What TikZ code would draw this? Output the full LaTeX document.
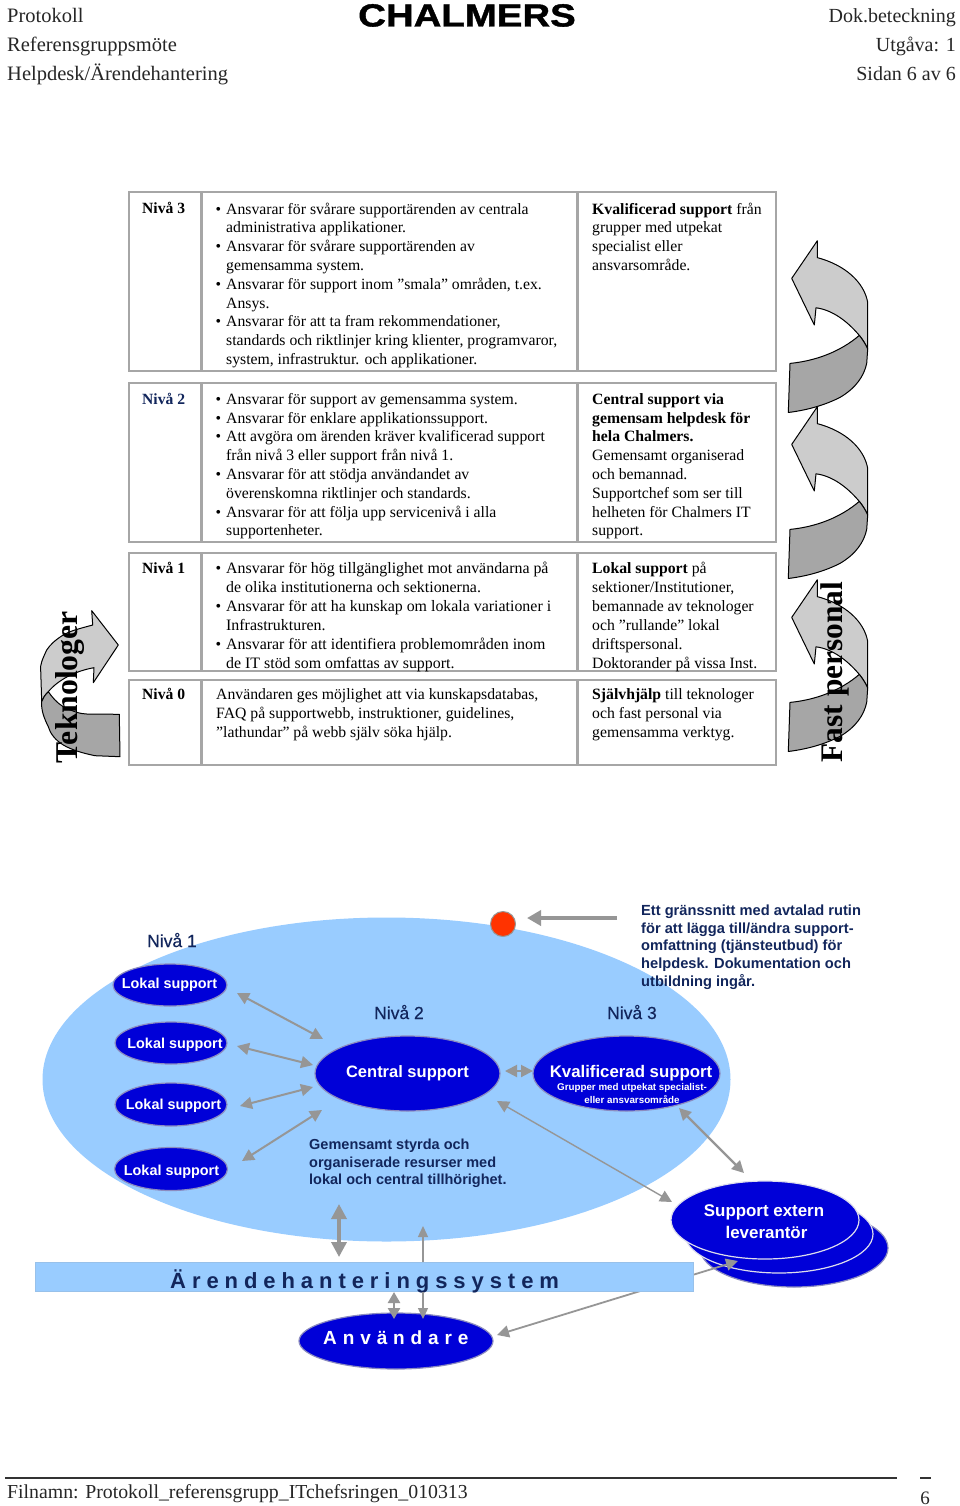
\documentclass[tikz,border=0pt]{standalone}
\usepackage{fontspec}
\setmainfont{Liberation Serif}
\setsansfont{Liberation Sans}
\newfontfamily\spacedA[LetterSpace=27]{Liberation Sans Bold}
\newfontfamily\spacedB[LetterSpace=31]{Liberation Sans Bold}
\newfontfamily\logofont[FakeBold=1.2]{Liberation Sans Bold}
\newfontfamily\navyfont[FakeBold=0.35]{Liberation Sans}
\usetikzlibrary{arrows.meta,shapes.geometric}
\definecolor{framegray}{HTML}{A6A6A6}
\definecolor{arrowgray}{HTML}{969696}
\definecolor{skyfill}{HTML}{99CCFF}
\definecolor{royal}{HTML}{0000D8}
\definecolor{rimcol}{HTML}{8C8CC0}
\definecolor{navytext}{HTML}{12265C}
\definecolor{lightcurl}{HTML}{CCCCCC}
\definecolor{darkcurl}{HTML}{A6A6A6}
\definecolor{dotred}{HTML}{FF3300}
\newcommand{\fl}{\rule{0pt}{11pt}}
\newcommand{\bl}{\makebox[0pt][r]{•\hspace{5pt}}}
\newcommand{\curlshape}[1]{%
\begin{scope}[yshift=-#1pt]
\draw[curl,fill=lightcurl] (817.3,240.8) -- (791.7,278.4) -- (814.3,325) -- (816,307.8)
  .. controls (833,310) and (848,322) .. (859.3,335.4)
  .. controls (863,340) and (866,345) .. (867.7,349) -- (867.7,302.4)
  .. controls (864,282) and (845,265) .. (817.3,257.6) -- cycle;
\draw[curl,fill=darkcurl] (859.3,335.4) .. controls (863,340) and (866,345) .. (867.7,349)
  -- (866.7,363.4) .. controls (864,376) and (856,388) .. (840,397.4)
  .. controls (825,405) and (808,410) .. (788.3,412.5) -- (790,363.4)
  .. controls (815,361) and (840,352) .. (859.3,335.4) -- cycle;
\end{scope}}
\tikzset{
  curl/.style={draw=black,line width=1pt,line join=round},
  celltext/.style={anchor=north west,inner sep=0pt,align=left,text=black,font=\fontsize{15.72}{18.8}\selectfont},
  lvl/.style={anchor=base west,inner sep=0pt,font=\fontsize{15.6}{18}\selectfont\bfseries},
  headl/.style={anchor=base west,inner sep=0pt,font=\fontsize{20.5}{24}\selectfont,text=black!85},
  headr/.style={anchor=base east,inner sep=0pt,font=\fontsize{20}{24}\selectfont,text=black!85},
  oval/.style={ellipse,draw=rimcol,line width=1.2pt,fill=royal,inner sep=0pt},
  ovtext/.style={anchor=center,inner sep=0pt,text=white,font=\sffamily\bfseries\fontsize{14.4}{17}\selectfont},
  navy/.style={text=navytext,inner sep=0pt,font=\navyfont\fontsize{17.5}{20}\selectfont},
  dbl/.style={draw=arrowgray,line width=#1,{Triangle[length=12pt,width=12pt]}-{Triangle[length=12pt,width=12pt]}},
  dbl/.default=2pt,
}
\begin{document}
\begin{tikzpicture}[x=1pt,y=-1pt]
\useasboundingbox (0,0) rectangle (960,1506);
\fill[white] (0,0) rectangle (960,1506);
% header
\node[headl] (h1) at (7,23) {Protokoll};
\node[headl] (h2) at (7,52) {Referensgruppsmöte};
\node[headl] (h3) at (7,81) {Helpdesk/Ärendehantering};
\node[headr] (h4) at (956,23) {Dok.beteckning};
\node[headr] (h5) at (956,52) {Utgåva: 1};
\node[headr] (h6) at (956,81) {Sidan 6 av 6};
\node[anchor=base,inner sep=0pt,xscale=1.2,font=\logofont\fontsize{32}{34}\selectfont] (logo) at (467,26.5) {CHALMERS};
% curl arrows right
\curlshape{0}
\curlshape{166}
\curlshape{339}
% curl arrow left
\draw[curl,fill=lightcurl] (118.3,645) -- (91.7,610.7) -- (92.7,625)
  .. controls (78,629) and (70,631) .. (63.3,635)
  .. controls (55,640) and (50,645) .. (46.7,650)
  .. controls (42,660) and (40,665) .. (40.7,670) -- (41.7,701.7)
  .. controls (43,698) and (45,695) .. (48.3,691.7)
  .. controls (58,680) and (75,671) .. (94,667.7) -- (93.3,682.7) -- cycle;
\draw[curl,fill=darkcurl] (48.3,691.7) .. controls (52,697) and (57,703) .. (63.3,706.7)
  .. controls (72,711) and (80,714) .. (86.7,714) -- (119.3,714.3) -- (120,756.7) -- (95,755.7)
  .. controls (82,753) and (72,750) .. (63.3,745)
  .. controls (55,740) and (50,733) .. (48.3,726.7)
  .. controls (44,718) and (41,710) .. (41.7,701.7) .. controls (43,698) and (45,695) .. (48.3,691.7) -- cycle;
\node[rotate=90,anchor=base west,inner sep=0pt,font=\bfseries\fontsize{31.7}{34}\selectfont] (tek) at (77,763.5) {Teknologer};
\node[rotate=90,anchor=base west,inner sep=0pt,font=\bfseries\fontsize{31.4}{34}\selectfont] (fast) at (842,762.5) {Fast personal};
% table frames
\foreach \ya/\yb/\lw in {192/371/2.7,383/542/2.7,553/671/2.2,680/765/2.2}{
  \draw[draw=framegray,line width=\lw pt,fill=white] (129,\ya) rectangle (776,\yb);
  \draw[draw=framegray,line width=3pt] (201,\ya) -- (201,\yb);
  \draw[draw=framegray,line width=3pt] (577.5,\ya) -- (577.5,\yb);
}
% level labels
\node[lvl] (n3) at (142,213.5) {Nivå 3};
\node[lvl,text=navytext] (n2) at (142,404) {Nivå 2};
\node[lvl] (n1) at (142,573) {Nivå 1};
\node[lvl] (n0) at (142,699) {Nivå 0};
% row 3
\node[celltext] (c3) at (226,202.5) {\fl\bl Ansvarar för svårare supportärenden av centrala\\
administrativa applikationer.\\
\bl Ansvarar för svårare supportärenden av\\
gemensamma system.\\
\bl Ansvarar för support inom ”smala” områden, t.ex.\\
Ansys.\\
\bl Ansvarar för att ta fram rekommendationer,\\
standards och riktlinjer kring klienter, programvaror,\\
system, infrastruktur. och applikationer.};
\node[celltext] (r3) at (592,202.5) {\fl\textbf{Kvalificerad support} från\\
grupper med utpekat\\
specialist eller\\
ansvarsområde.};
% row 2
\node[celltext] (c2) at (226,393) {\fl\bl Ansvarar för support av gemensamma system.\\
\bl Ansvarar för enklare applikationssupport.\\
\bl Att avgöra om ärenden kräver kvalificerad support\\
från nivå 3 eller support från nivå 1.\\
\bl Ansvarar för att stödja användandet av\\
överenskomna riktlinjer och standards.\\
\bl Ansvarar för att följa upp servicenivå i alla\\
supportenheter.};
\node[celltext] (r2) at (592,393) {\fl\textbf{Central support via}\\
\textbf{gemensam helpdesk för}\\
\textbf{hela Chalmers.}\\
Gemensamt organiserad\\
och bemannad.\\
Supportchef som ser till\\
helheten för Chalmers IT\\
support.};
% row 1
\node[celltext,font=\fontsize{15.9}{19}\selectfont] (c1) at (226,562) {\fl\bl Ansvarar för hög tillgänglighet mot användarna på\\
de olika institutionerna och sektionerna.\\
\bl Ansvarar för att ha kunskap om lokala variationer i\\
Infrastrukturen.\\
\bl Ansvarar för att identifiera problemområden inom\\
de IT stöd som omfattas av support.};
\node[celltext,font=\fontsize{15.72}{19}\selectfont] (r1) at (592,562) {\fl\textbf{Lokal support} på\\
sektioner/Institutioner,\\
bemannade av teknologer\\
och ”rullande” lokal\\
driftspersonal.\\
Doktorander på vissa Inst.};
% row 0
\node[celltext,font=\fontsize{15.72}{19}\selectfont] (c0) at (216,688) {\fl Användaren ges möjlighet att via kunskapsdatabas,\\
FAQ på supportwebb, instruktioner, guidelines,\\
”lathundar” på webb själv söka hjälp.};
\node[celltext,font=\fontsize{15.72}{19}\selectfont] (r0) at (592,688) {\fl\textbf{Självhjälp} till teknologer\\
och fast personal via\\
gemensamma verktyg.};
% lower diagram
\node[ellipse,fill=skyfill,minimum width=688pt,minimum height=324pt,inner sep=0pt] (cloud) at (386.5,1079.5) {};
\node[oval,minimum width=114pt,minimum height=42pt] (l1) at (170,985) {};
\node[oval,minimum width=112pt,minimum height=42pt] (l2) at (171,1043) {};
\node[oval,minimum width=112pt,minimum height=43pt] (l3) at (171,1104.5) {};
\node[oval,minimum width=113pt,minimum height=43pt] (l4) at (171,1169) {};
\node[ovtext] (l1t) at (169.5,985) {Lokal support};
\node[ovtext] (l2t) at (175,1044.5) {Lokal support};
\node[ovtext] (l3t) at (173.5,1105.5) {Lokal support};
\node[ovtext] (l4t) at (171.5,1171.5) {Lokal support};
\node[oval,minimum width=185pt,minimum height=75pt] (cs) at (407.5,1073.5) {};
\node[ovtext,font=\sffamily\bfseries\fontsize{16.5}{19}\selectfont] (cst) at (407.5,1073) {Central support};
\node[oval,minimum width=187pt,minimum height=75pt] (ks) at (626.5,1073.5) {};
\node[anchor=base,inner sep=0pt,text=white,font=\sffamily\bfseries\fontsize{16.8}{19}\selectfont] (kst) at (631,1077) {Kvalificerad support};
\node[anchor=north,inner sep=0pt,text=white,align=center,font=\sffamily\bfseries\fontsize{9.8}{12.4}\selectfont] (kss) at (632,1083.5) {Grupper med utpekat specialist-\\eller ansvarsområde};
\node[oval,minimum width=188pt,minimum height=78pt] (se3) at (794,1248) {};
\node[oval,draw=white!70!rimcol,minimum width=188pt,minimum height=78pt] (se2) at (779,1234) {};
\node[oval,draw=white!70!rimcol,minimum width=188pt,minimum height=78pt] (se1) at (765,1220) {};
\node[anchor=north,inner sep=0pt,text=white,align=center,font=\sffamily\bfseries\fontsize{16.9}{21.5}\selectfont] (se1t) at (764,1204.5) {Support extern\\\hspace{5pt}leverantör};
\node[circle,fill=dotred,draw=arrowgray,line width=1pt,minimum size=25pt,inner sep=0pt] (dot) at (503,924) {};
% labels
\node[navy,anchor=base west] (tn1) at (147,947) {Nivå 1};
\node[navy,anchor=base west] (tn2) at (374,1019) {Nivå 2};
\node[navy,anchor=base west] (tn3) at (607,1019) {Nivå 3};
\node[text=navytext,inner sep=0pt,anchor=north west,align=left,font=\sffamily\bfseries\fontsize{14.65}{17.7}\selectfont] (note) at (641,904.5) {Ett gränssnitt med avtalad rutin\\
för att lägga till/ändra support-\\
omfattning (tjänsteutbud) för\\
helpdesk. Dokumentation och\\
utbildning ingår.};
\node[text=navytext,inner sep=0pt,anchor=north west,align=left,font=\sffamily\bfseries\fontsize{14.5}{17.5}\selectfont] (gem) at (309,1139) {Gemensamt styrda och\\
organiserade resurser med\\
lokal och central tillhörighet.};
% connectors
\coordinate (p1a) at (237,993); \coordinate (p1b) at (323,1039);
\coordinate (p2a) at (237,1046); \coordinate (p2b) at (313,1065);
\coordinate (p3a) at (240,1106); \coordinate (p3b) at (313,1087);
\coordinate (p4a) at (242,1161); \coordinate (p4b) at (322,1110);
\coordinate (p5a) at (505,1071); \coordinate (p5b) at (533,1071);
\coordinate (p6a) at (497,1101); \coordinate (p6b) at (672,1202);
\coordinate (p7a) at (679,1108); \coordinate (p7b) at (744,1173);
\coordinate (p8a) at (617,918); \coordinate (p8b) at (527,918);
\coordinate (p9a) at (339,1204); \coordinate (p9b) at (339,1257);
\coordinate (p10a) at (423,1226); \coordinate (p10b) at (423,1319);
\coordinate (p11a) at (394,1292); \coordinate (p11b) at (394,1319);
\coordinate (p12a) at (497,1335); \coordinate (p12b) at (738,1261);
\draw[dbl] (p1a) -- (p1b);
\draw[dbl] (p2a) -- (p2b);
\draw[dbl] (p3a) -- (p3b);
\draw[dbl] (p4a) -- (p4b);
\draw[dbl] (p5a) -- (p5b);
\draw[dbl=1.4pt] (p6a) -- (p6b);
\draw[dbl=2.4pt] (p7a) -- (p7b);
\draw[draw=arrowgray,line width=4pt,-{Triangle[length=14pt,width=15pt]}] (p8a) -- (p8b);
\draw[draw=arrowgray,line width=3.5pt,{Triangle[length=15pt,width=15pt]}-{Triangle[length=15pt,width=15pt]}] (p9a) -- (p9b);
\draw[draw=arrowgray,line width=1.4pt,-{Triangle[length=11pt,width=10pt]}] (p10b) -- (p10a);
\draw[dbl=1.8pt] (p12a) -- (p12b);
% system bar
\node[draw=skyfill!80!arrowgray,line width=1pt,fill=skyfill,minimum width=658pt,minimum height=29pt,inner sep=0pt] (bar) at (364,1276.5) {};
\node[anchor=base west,inner sep=0pt,text=navytext,font=\spacedA\fontsize{22}{24}\selectfont] (bart) at (170,1288) {Ärendehanteringssystem};
\node[oval,minimum width=194pt,minimum height=56pt] (anv) at (396,1341) {};
\node[anchor=base west,inner sep=0pt,text=white,font=\spacedB\fontsize{19}{21}\selectfont] (anvt) at (323,1344) {Användare};
\draw[draw=arrowgray,line width=2.5pt,{Triangle[length=11pt,width=12pt]}-{Triangle[length=11pt,width=12pt]}] (p11a) -- (p11b);
\coordinate (p10c) at (423,1292);
\draw[draw=arrowgray,line width=1.4pt,-{Triangle[length=11pt,width=10pt]}] (p10c) -- (p10b);
% footer
\coordinate (fa) at (5,1478); \coordinate (fb) at (897,1478);
\coordinate (fc) at (920,1478); \coordinate (fd) at (931,1478);
\draw[line width=1.3pt,black!80] (fa) -- (fb);
\draw[line width=1.3pt,black!80] (fc) -- (fd);
\node[anchor=base west,inner sep=0pt,font=\fontsize{19.8}{24}\selectfont,text=black!85] (foot) at (7,1498) {Filnamn: Protokoll\_referensgrupp\_ITchefsringen\_010313};
\node[anchor=base,inner sep=0pt,font=\fontsize{19}{24}\selectfont,text=black!85] (pg) at (925,1504.5) {6};
\end{tikzpicture}
\end{document}
